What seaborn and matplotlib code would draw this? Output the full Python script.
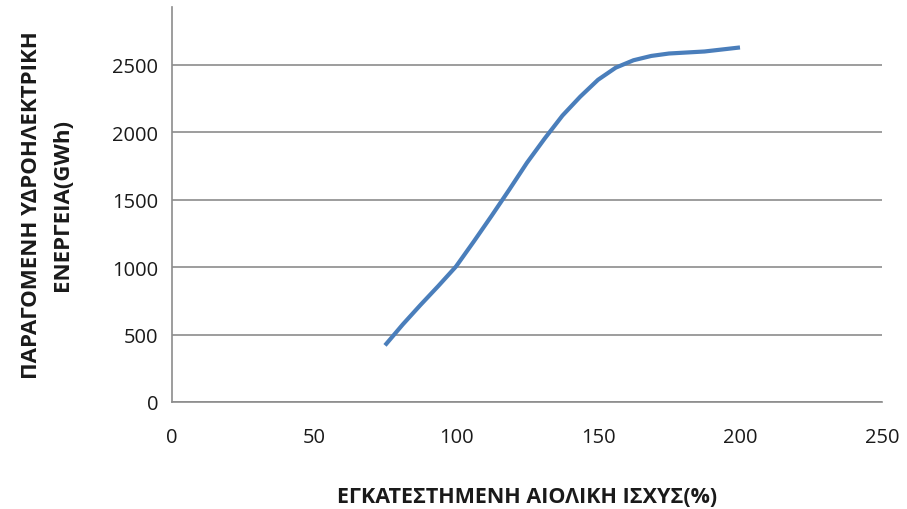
import matplotlib
matplotlib.use("Agg")
import matplotlib.pyplot as plt
import seaborn as sns
import pandas as pd

# Data
wind_capacity_pct = [75, 81.25, 87.5, 93.75, 100, 106.25, 112.5, 118.75, 125, 131.25,
                     137.5, 143.75, 150, 156.25, 162.5, 168.75, 175, 187.5, 200]
hydro_energy_gwh = [420, 575, 720, 860, 1005, 1190, 1380, 1575, 1775, 1955,
                    2125, 2265, 2390, 2480, 2535, 2567, 2585, 2600, 2630]
x_ticks = [0, 50, 100, 150, 200, 250]
y_ticks = [0, 500, 1000, 1500, 2000, 2500]
x_label = "ΕΓΚΑΤΕΣΤΗΜΕΝΗ ΑΙΟΛΙΚΗ ΙΣΧΥΣ(%)"
y_label = "ΠΑΡΑΓΟΜΕΝΗ ΥΔΡΟΗΛΕΚΤΡΙΚΗ\nΕΝΕΡΓΕΙΑ(GWh)"

df = pd.DataFrame({"x": wind_capacity_pct, "y": hydro_energy_gwh})

sns.set_theme(style="white")
plt.rcParams["font.family"] = ["Open Sans", "DejaVu Sans"]

fig = plt.figure(figsize=(9.07, 5.10), dpi=100)
ax = fig.add_axes([172 / 907, 1 - 403 / 510, (882 - 172) / 907, (403 - 8) / 510])

sns.lineplot(data=df, x="x", y="y", ax=ax, color="#4A7EBB", linewidth=3.0)
ax.lines[0].set_solid_joinstyle("round")
ax.lines[0].set_solid_capstyle("butt")

ax.set_xlim(0, 250)
ax.set_ylim(0, 2930)
ax.set_xticks(x_ticks)
ax.set_yticks(y_ticks)
ax.set_xticklabels([str(v) for v in x_ticks], fontsize=14.5, color="#1a1a1a")
ax.set_yticklabels([str(v) for v in y_ticks], fontsize=14.5, color="#1a1a1a")
ax.tick_params(axis="x", length=0, pad=18)
ax.tick_params(axis="y", length=0, pad=10)

ax.yaxis.grid(True, color="#8c8c8c", linewidth=1.2)
ax.xaxis.grid(False)
ax.set_axisbelow(True)

for s in ["top", "right"]:
    ax.spines[s].set_visible(False)
for s in ["left", "bottom"]:
    ax.spines[s].set_color("#8c8c8c")
    ax.spines[s].set_linewidth(1.2)

ax.set_xlabel(x_label, fontsize=15.5, fontweight="bold", color="#1a1a1a", labelpad=28)
ax.set_ylabel(y_label, fontsize=16, fontweight="bold", color="#1a1a1a", labelpad=28,
              linespacing=1.65)

fig.savefig("out.png", dpi=100)
